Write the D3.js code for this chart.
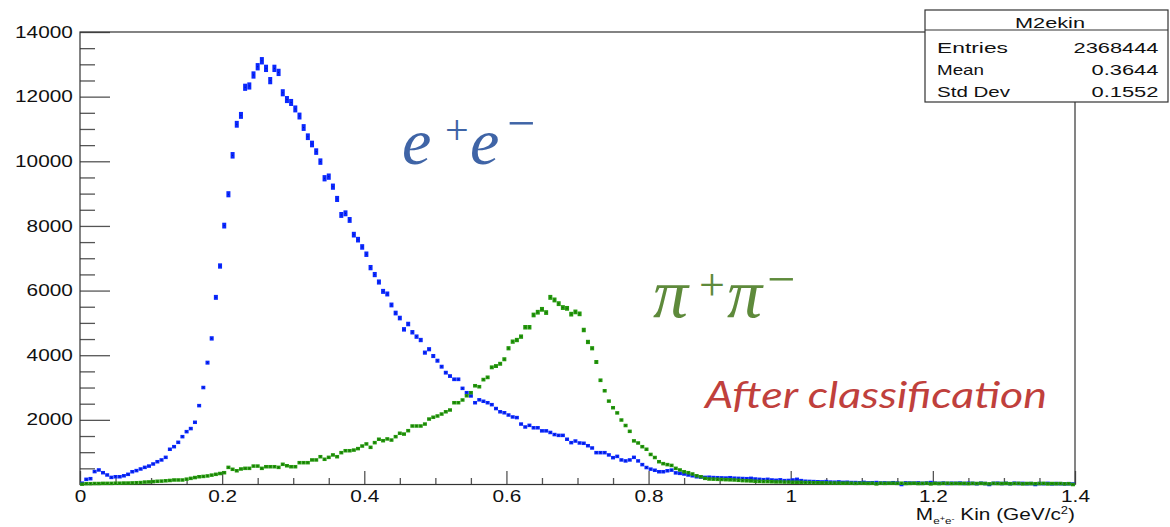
<!DOCTYPE html>
<html>
<head>
<meta charset="utf-8">
<script src="https://cdn.jsdelivr.net/npm/d3@7"></script>
<style>
  body { margin: 0; background: #fff; }
  svg { display: block; }
</style>
</head>
<body>
<script>
// histogram binning (M2ekin), counts per bin
var nBins = 238, xLo = 0, xHi = 1.4;

// e+e- after classification (blue)
var eeCounts = [
  40,160,180,400,450,365,295,220,240,240,270,315,395,430,480,530,570,635,705,760,840,1090,1170,1305,1480,1635,1730,1925,2440,3000,
  3770,4520,5790,6760,8010,8980,10185,11145,11420,12290,12330,12670,12925,13110,12875,12495,12875,12750,12120,11910,11820,11620,11400,11045,10760,10535,10300,9990,9475,9525,
  9215,8835,8340,8390,8185,7730,7575,7350,7125,6710,6495,6265,5975,5895,5555,5305,5150,4800,4965,4710,4575,4470,4080,4185,3975,3830,3645,3460,3355,3255,
  3255,2975,2840,2740,2530,2620,2575,2530,2470,2350,2250,2220,2150,2090,2070,1870,1780,1830,1755,1755,1660,1660,1610,1545,1520,1520,1400,1295,1345,1285,
  1275,1200,1130,985,985,985,915,830,870,760,730,760,840,730,615,525,475,440,395,395,425,445,360,345,325,295,270,240,230,220,
  225,215,210,205,200,210,195,190,185,180,190,170,160,150,160,140,130,145,120,125,140,160,120,100,95,90,85,80,90,75,
  70,80,65,70,60,60,55,65,50,55,60,45,50,40,55,45,0,50,45,40,50,35,45,60,40,35,45,30,40,35,
  45,30,40,35,25,40,30,0,35,40,30,35,25,40,30,35,25,30,0,30,25,35,20,30,25,20,25,15
];

// pi+pi- after classification (green)
var pipiCounts = [
  10,25,25,30,30,35,35,35,40,40,45,45,50,55,60,75,80,90,100,105,115,125,140,140,140,165,190,215,240,250,
  265,290,315,340,365,530,470,425,480,500,500,570,570,500,550,550,550,530,625,580,550,550,675,675,675,760,760,860,780,840,
  915,860,985,1045,1045,1065,1110,1190,1255,1150,1295,1400,1355,1410,1375,1480,1585,1560,1665,1810,1810,1810,1870,2025,2080,2120,2180,2250,2305,2530,
  2530,2615,2745,2840,3055,3025,3245,3315,3625,3665,3735,3875,4215,4420,4470,4575,4865,4865,5245,5330,5420,5320,5790,5710,5595,5475,5450,5270,5340,5280,
  4780,4410,4215,3790,3225,2900,2580,2375,2215,1995,1825,1645,1350,1285,1170,1090,930,835,705,645,615,590,500,450,395,365,325,270,240,190,
  170,165,160,155,150,145,140,130,120,115,110,100,95,90,90,85,80,80,75,75,70,70,65,60,60,55,55,50,50,45,
  45,45,40,45,40,35,40,40,35,40,20,40,35,40,40,35,40,30,35,40,30,35,40,20,35,30,35,40,30,35,
  30,35,25,35,30,35,30,20,35,30,30,35,25,30,35,20,30,30,25,30,35,20,30,25,30,20,25,0
];

var xMajor = [0, 0.2, 0.4, 0.6, 0.8, 1, 1.2, 1.4];
var yMajor = [2000, 4000, 6000, 8000, 10000, 12000, 14000];
var statsTitle = "M2ekin";
var statsRows = [["Entries", "2368444"], ["Mean", "0.3644"], ["Std Dev", "0.1552"]];

var width = 1170, height = 527;
var frame = { left: 80, right: 1075, top: 32, bottom: 484.5 };

var xScale = d3.scaleLinear().domain([xLo, xHi]).range([frame.left, frame.right]);
var yScale = d3.scaleLinear().domain([0, 14000]).range([frame.bottom, frame.top]);

var binW = (xHi - xLo) / nBins;
function toBins(counts) {
  return counts.map(function (c, i) { return { x: xLo + (i + 0.5) * binW, y: c }; });
}

var svg = d3.select("body").append("svg")
    .attr("width", width)
    .attr("height", height)
    .style("font-family", "'Liberation Sans', Arial, Helvetica, sans-serif");

// minor ticks every 0.05 / 500
var xMinor = d3.range(0, 1.4001, 0.05).filter(function (v) { return Math.abs(v * 5 - Math.round(v * 5)) > 1e-6; });
var yMinor = d3.range(500, 14000, 500).filter(function (v) { return v % 2000 !== 0; });

// x axis
svg.append("g")
    .attr("transform", "translate(0," + frame.bottom + ")")
    .call(d3.axisBottom(xScale).tickValues(xMinor).tickSize(-6.5).tickFormat(""))
    .call(function (g) { g.select(".domain").remove(); });
svg.append("g")
    .attr("class", "x axis")
    .attr("transform", "translate(0," + frame.bottom + ")")
    .call(d3.axisBottom(xScale).tickValues(xMajor).tickSize(-13.5).tickPadding(6)
        .tickFormat(function (d) { return String(+d.toFixed(1)); }))
    .call(function (g) { g.select(".domain").remove(); });

// y axis
svg.append("g")
    .attr("transform", "translate(" + frame.left + ",0)")
    .call(d3.axisLeft(yScale).tickValues(yMinor).tickSize(-15).tickFormat(""))
    .call(function (g) { g.select(".domain").remove(); });
svg.append("g")
    .attr("class", "y axis")
    .attr("transform", "translate(" + frame.left + ",0)")
    .call(d3.axisLeft(yScale).tickValues(yMajor).tickSize(-30).tickPadding(5.5)
        .tickFormat(d3.format("d")))
    .call(function (g) { g.select(".domain").remove(); });

svg.selectAll(".tick line").attr("stroke", "#555").attr("stroke-width", 1.3);
svg.selectAll(".tick text")
    .attr("fill", "#111")
    .style("font-size", "16px")
    .attr("transform", "scale(1.3,1)");

// frame
svg.append("rect")
    .attr("x", frame.left)
    .attr("y", frame.top)
    .attr("width", frame.right - frame.left)
    .attr("height", frame.bottom - frame.top)
    .attr("fill", "none")
    .attr("stroke", "#333")
    .attr("stroke-width", 1.2);

// x axis title: M_{e^{+}e^{-}} Kin (GeV/c^{2})
var xt = svg.append("text")
    .attr("text-anchor", "end")
    .attr("transform", "translate(1075,520) scale(1.3,1)")
    .style("font-size", "16px")
    .attr("fill", "#111");
xt.append("tspan").text("M");
xt.append("tspan").attr("dy", 4).style("font-size", "9px").text("e");
xt.append("tspan").attr("dy", -3).style("font-size", "7px").text("+");
xt.append("tspan").attr("dy", 3).style("font-size", "9px").text("e");
xt.append("tspan").attr("dy", -3).style("font-size", "7px").text("-");
xt.append("tspan").attr("dy", -1).text(" Kin (GeV/c");
xt.append("tspan").attr("dy", -6).style("font-size", "10px").text("2");
xt.append("tspan").attr("dy", 6).text(")");

// histogram points: marker + vertical error bar of sqrt(N)
function errHeight(d) {
  return Math.max(3.5, yScale(d.y - Math.sqrt(d.y)) - yScale(d.y + Math.sqrt(d.y)));
}
function drawSeries(data, colour) {
  var g = svg.append("g");
  g.selectAll("rect.pt")
    .data(data)
    .enter().append("rect")
    .attr("class", "pt")
    .attr("fill", colour)
    .attr("x", function (d) { return xScale(d.x) - 2; })
    .attr("width", 4)
    .attr("y", function (d) { return yScale(d.y) - errHeight(d) / 2; })
    .attr("height", errHeight);
  g.selectAll("rect.dot")
    .data(data)
    .enter().append("rect")
    .attr("class", "dot")
    .attr("fill", "#000")
    .attr("opacity", 0.45)
    .attr("x", function (d) { return xScale(d.x) - 0.5; })
    .attr("y", function (d) { return yScale(d.y) - 0.5; })
    .attr("width", 1)
    .attr("height", 1);
}
drawSeries(toBins(eeCounts), "#0a28ff");
drawSeries(toBins(pipiCounts), "#23980c");

// stats box
var box = svg.append("g");
box.append("rect")
    .attr("x", 925).attr("y", 10).attr("width", 243).attr("height", 92)
    .attr("fill", "#fff").attr("stroke", "#333").attr("stroke-width", 1.2);
box.append("line")
    .attr("x1", 925).attr("x2", 1168).attr("y1", 30).attr("y2", 30)
    .attr("stroke", "#333").attr("stroke-width", 1.2);
box.append("text")
    .attr("x", 1015).attr("y", 27.5)
    .attr("textLength", 70).attr("lengthAdjust", "spacingAndGlyphs")
    .style("font-size", "15px").attr("fill", "#111")
    .text(statsTitle);
var labelLen = [71, 47, 73], valueLen = [85, 67, 67];
statsRows.forEach(function (r, i) {
  var base = 53 + i * 21.8;
  box.append("text")
      .attr("x", 937).attr("y", base)
      .attr("textLength", labelLen[i]).attr("lengthAdjust", "spacingAndGlyphs")
      .style("font-size", "15px").attr("fill", "#111")
      .text(r[0]);
  box.append("text")
      .attr("x", 1158.5 - valueLen[i]).attr("y", base)
      .attr("textLength", valueLen[i]).attr("lengthAdjust", "spacingAndGlyphs")
      .style("font-size", "15px").attr("fill", "#111")
      .text(r[1]);
});

// annotations
var serif = "'Liberation Serif', 'DejaVu Serif', serif";
var ee = svg.append("text").attr("fill", "#3f64a6").style("font-family", serif);
ee.append("tspan").attr("x", 402).attr("y", 164).style("font-size", "66px").style("font-style", "italic").text("e");
ee.append("tspan").attr("x", 445).attr("y", 144).style("font-size", "42px").text("+");
ee.append("tspan").attr("x", 470).attr("y", 164).style("font-size", "66px").style("font-style", "italic").text("e");
ee.append("tspan").attr("x", 507).attr("y", 140).style("font-size", "50px").text("\u2212");

var pp = svg.append("text").attr("fill", "#5e8a3b").style("font-family", serif);
pp.append("tspan").attr("x", 653).attr("y", 317).style("font-size", "70px").style("font-style", "italic").text("\u03c0");
pp.append("tspan").attr("x", 699).attr("y", 300).style("font-size", "46px").text("+");
pp.append("tspan").attr("x", 727).attr("y", 317).style("font-size", "70px").style("font-style", "italic").text("\u03c0");
pp.append("tspan").attr("x", 767).attr("y", 296).style("font-size", "50px").text("\u2212");

svg.append("text")
    .attr("x", 705).attr("y", 408)
    .attr("textLength", 342).attr("lengthAdjust", "spacingAndGlyphs")
    .style("font-family", "Lato, 'Open Sans', sans-serif")
    .style("font-style", "italic")
    .style("font-size", "36px")
    .attr("fill", "#c0403c")
    .text("After classification");
</script>
</body>
</html>
